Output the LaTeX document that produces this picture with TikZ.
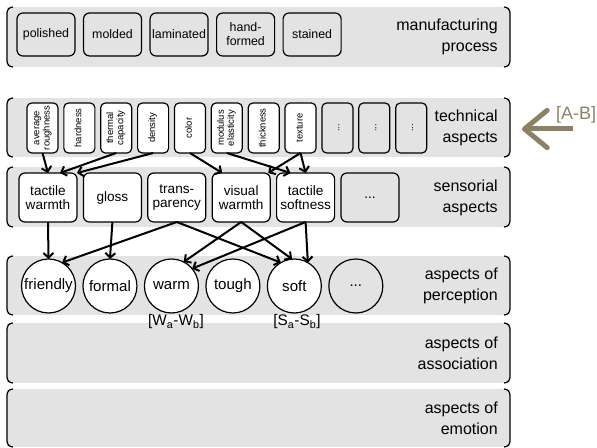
\documentclass[tikz,border=0pt]{standalone}
\usepackage{fontspec}
\setmainfont{Liberation Sans}
\usetikzlibrary{positioning,arrows.meta}
\definecolor{bandgray}{RGB}{227,227,227}
\definecolor{abcolor}{RGB}{140,130,99}
\newcommand{\vtext}[1]{\rotatebox{90}{\begin{tabular}{@{}c@{}}#1\end{tabular}}}

\begin{document}
\begin{tikzpicture}[x=0.75pt,y=-0.75pt,
    bracket/.style={line width=0.9pt, rounded corners=4.5pt},
    procbox/.style={draw, rounded corners=4.5pt, line width=0.9pt, outer sep=0pt, minimum width=43.5pt, minimum height=32.25pt, inner sep=1pt, align=center, font=\fontsize{9.3}{10.5}\selectfont},
    techbox/.style={draw, fill=white, rounded corners=3.5pt, line width=0.9pt, outer sep=0pt, minimum width=23.25pt, minimum height=37.5pt, inner sep=0.5pt, font=\fontsize{7.1}{7.6}\selectfont},
    techdots/.style={techbox, fill=none},
    sensbox/.style={draw, fill=white, rounded corners=4.5pt, line width=0.9pt, outer sep=0pt, minimum width=43.5pt, minimum height=36.75pt, inner sep=1pt, align=center, font=\fontsize{10.2}{11}\selectfont},
    sensdots/.style={sensbox, fill=none},
    percirc/.style={draw, fill=white, circle, line width=0.9pt, outer sep=0pt, minimum size=40.5pt, inner sep=0pt, font=\fontsize{11.3}{13}\selectfont},
    percdots/.style={percirc, fill=none},
    bandlabel/.style={anchor=east, align=right, inner sep=0pt, font=\fontsize{12}{15.7}\selectfont},
    rangelabel/.style={font=\fontsize{11.5}{13}\selectfont},
    link/.style={-{Straight Barb[length=3.5pt,width=7.5pt]}, line width=1.5pt}
]
  \useasboundingbox (0,0) rectangle (597,448);

  % grey bands with bracket ends
  \foreach \yt/\yb in {7/67, 98/157, 167/227, 256/315, 323/383, 389/447} {
    \fill[bandgray] (7,\yt) rectangle (510,\yb);
    \draw[bracket] (13,\yt) -- (7,\yt) -- (7,\yb) -- (13,\yb);
    \draw[bracket] (504,\yt) -- (510,\yt) -- (510,\yb) -- (504,\yb);
  }

  % band labels
  \node[bandlabel] (proclabel) at (498,37) {manufacturing\\process};
  \node[bandlabel] (techlabel) at (498,128) {technical\\aspects};
  \node[bandlabel] (senslabel) at (498,197.5) {sensorial\\aspects};
  \node[bandlabel] (perclabel) at (498,286) {aspects of\\perception};
  \node[bandlabel] (assoclabel) at (498,353) {aspects of\\association};
  \node[bandlabel] (emotlabel) at (498,418) {aspects of\\emotion};

  % manufacturing process
  \node[procbox] (polished) at (46,34.5) {polished};
  \node[procbox, right=6.4pt of polished] (molded) {molded};
  \node[procbox, right=6.4pt of molded] (laminated) {laminated};
  \node[procbox, right=6.4pt of laminated] (handformed) {hand-\\formed};
  \node[procbox, right=6.4pt of handformed] (stained) {stained};

  % technical aspects
  \node[techbox] (avgrough) at (42.5,128) {\vtext{average\\roughness}};
  \node[techbox, right=4.4pt of avgrough] (hardness) {\vtext{hardness}};
  \node[techbox, right=4.4pt of hardness] (thermal) {\vtext{thermal\\capacity}};
  \node[techbox, right=4.4pt of thermal] (density) {\vtext{density}};
  \node[techbox, right=4.4pt of density] (color) {\vtext{color}};
  \node[techbox, right=4.4pt of color] (modulus) {\vtext{modulus\\elasticity}};
  \node[techbox, right=4.4pt of modulus] (thickness) {\vtext{thickness}};
  \node[techbox, right=4.4pt of thickness] (texture) {\vtext{texture}};
  \node[techdots, right=4.4pt of texture] (techdotsa) {\vtext{...}};
  \node[techdots, right=4.4pt of techdotsa] (techdotsb) {\vtext{...}};
  \node[techdots, right=4.4pt of techdotsb] (techdotsc) {\vtext{...}};

  % sensorial aspects
  \node[sensbox] (tactwarm) at (48,197.5) {tactile\\warmth};
  \node[sensbox, right=4.8pt of tactwarm] (gloss) {gloss};
  \node[sensbox, right=4.8pt of gloss] (transp) {trans-\\parency};
  \node[sensbox, right=4.8pt of transp] (viswarm) {visual\\warmth};
  \node[sensbox, right=4.8pt of viswarm] (tactsoft) {tactile\\softness};
  \node[sensdots, right=4.8pt of tactsoft] (sensdotsa) {...};

  % aspects of perception
  \node[percirc] (friendly) at (48.5,286) {friendly};
  \node[percirc, right=5.6pt of friendly] (formal) {formal};
  \node[percirc, right=5.6pt of formal] (warm) {warm};
  \node[percirc, right=5.6pt of warm] (tough) {tough};
  \node[percirc, right=5.6pt of tough] (soft) {soft};
  \node[percdots, right=5.6pt of soft] (percdotsa) {...};

  \node[rangelabel] (warmrange) at (176,322) {[W\textsubscript{a}-W\textsubscript{b}]};
  \node[rangelabel] (softrange) at (297,322) {[S\textsubscript{a}-S\textsubscript{b}]};

  % technical -> sensorial
  \draw[link] (avgrough.south) -- (tactwarm.north);
  \draw[link] (thermal.south) -- ([xshift=9pt]tactwarm.north);
  \draw[link] (density.south) -- (tactwarm.north east);
  \draw[link] (color.south) -- ([xshift=7.5pt]viswarm.north west);
  \draw[link] (modulus.south) -- ([xshift=10.5pt]tactsoft.north west);
  \draw[link] (texture.south) -- ([xshift=-1.5pt]viswarm.north east);
  \draw[link] (texture.south) -- (tactsoft.north);

  % sensorial -> perception
  \draw[link] (tactwarm.south) -- (friendly.north);
  \draw[link] (gloss.south) -- (formal.north);
  \draw[link] (transp.south) -- (friendly.60);
  \draw[link] (transp.south) -- (soft.120);
  \draw[link] (viswarm.south) -- (warm.63);
  \draw[link] (viswarm.south) -- (soft.95);
  \draw[link] (tactsoft.south) -- (warm.40);
  \draw[link] (tactsoft.south) -- (soft.60);

  % range arrow
  \coordinate (abtail) at (573,129);
  \coordinate (abtip) at (522,129);
  \draw[abcolor, line width=3.75pt, -{Straight Barb[length=17pt,width=28pt,round]}] (abtail) -- (abtip);
  \node[abcolor, font=\fontsize{13.5}{15}\selectfont] (ablabel) at (576,115) {[A-B]};
\end{tikzpicture}
\end{document}
